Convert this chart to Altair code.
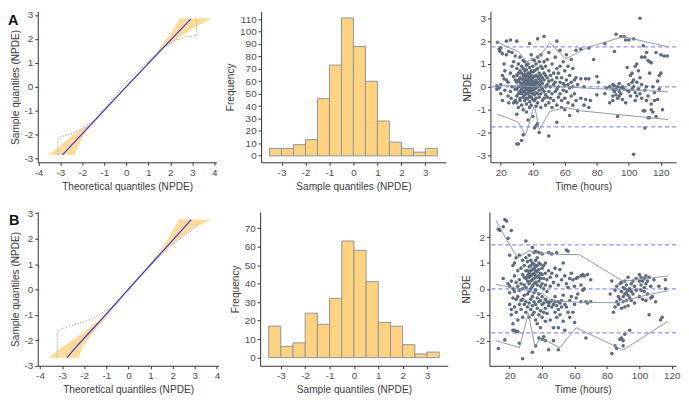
import altair as alt
import pandas as pd

FONT = "Liberation Sans"

# ---------------- QQ plot A ----------------
QQA_LINE_X = [-2.91, -2.5, -2.0, -1.5, -1.0, -0.5, 0.0, 0.5, 1.0, 1.5, 2.0, 2.5, 2.93]
QQA_LINE_Y = [-2.84, -2.44, -1.95, -1.46, -0.97, -0.48, 0.01, 0.49, 0.98, 1.46, 1.94, 2.42, 2.83]
QQA_BAND_Y = [-2.84, -2.5, -2.0, -1.6, -1.3, -0.8, 0.0, 0.8, 1.3, 1.6, 2.0, 2.4, 2.87]
QQA_BAND_LO = [-3.57, -3.05, -2.45, -1.75, -1.38, -0.86, -0.05, 0.75, 1.28, 1.5, 1.82, 2.15, 2.42]
QQA_BAND_HI = [-2.36, -2.2, -1.92, -1.57, -1.26, -0.77, 0.05, 0.88, 1.4, 1.72, 2.3, 2.95, 3.87]
QQA_DOT_X = [-3.11, -3.11, -2.95, -2.5, -2.0, -1.35, -0.8, -0.1, 0.5, 1.0, 1.6, 2.2, 2.7, 3.2, 3.2]
QQA_DOT_Y = [-2.84, -2.18, -2.07, -1.95, -1.75, -1.31, -0.7, 0.12, 0.65, 1.08, 1.6, 1.94, 2.08, 2.15, 2.83]

# ---------------- QQ plot B ----------------
QQB_LINE_X = [-2.78, -2.3, -1.8, -1.3, -0.8, -0.3, 0.2, 0.7, 1.2, 1.7, 2.2, 2.84]
QQB_LINE_Y = [-2.68, -2.2, -1.72, -1.25, -0.77, -0.28, 0.2, 0.68, 1.17, 1.65, 2.13, 2.75]
QQB_BAND_Y = [-2.68, -2.3, -2.0, -1.6, -1.2, -0.6, 0.0, 0.6, 1.2, 1.6, 2.0, 2.4, 2.75]
QQB_BAND_LO = [-3.62, -3.05, -2.55, -1.9, -1.32, -0.65, -0.05, 0.55, 1.12, 1.5, 1.8, 2.05, 2.29]
QQB_BAND_HI = [-2.24, -2.1, -1.85, -1.5, -1.1, -0.55, 0.05, 0.65, 1.28, 1.75, 2.3, 2.9, 3.78]
QQB_DOT_X = [-3.22, -3.22, -3.04, -2.4, -1.66, -1.08, -0.57, 0.0, 0.6, 1.3, 1.8, 2.33, 2.9, 3.2]
QQB_DOT_Y = [-2.68, -1.67, -1.55, -1.38, -1.17, -0.85, -0.6, 0.05, 0.62, 1.2, 1.62, 1.99, 2.37, 2.62]

# ---------------- Histograms ----------------
HIST_EDGES = [-3.5, -3.0, -2.5, -2.0, -1.5, -1.0, -0.5, 0.0, 0.5, 1.0, 1.5, 2.0, 2.5, 3.0, 3.5]
HIST_A = [6, 6, 9, 13, 46, 73, 111, 88, 60, 28, 11, 6, 3, 6]
HIST_B = [17, 6, 8, 24, 18, 32, 63, 58, 41, 19, 17, 7, 2, 3]

# ---------------- Scatter A: (time, [npde values]) ----------------
SCAT_A = [
    (17.5, [0.05, -0.1]), (18, [1.95]), (19, [1.65, -0.05]), (19.5, [1.55]), (20, [1.7, 0.1, -0.3]),
    (21, [1.45, 0.5, -0.6]), (22, [0.35, 1.0]), (22.5, [0.7, -0.15]), (23.5, [2.0, 0.3, 1.4]),
    (24.5, [-0.4, 0.2]), (25, [1.55, -0.7]), (26, [2.05, 0.6, -0.2]), (26.5, [-0.5]),
    (27, [1.5, 0.9, 0.0]), (28, [-0.7, 0.45, 1.1]), (29, [-0.1, 0.3, 1.35, -0.6]),
    (30, [2.0, 0.8, 0.5, 0.2, -0.1, -0.4, -0.7, -1.2, -2.5]),
    (31, [1.0, 0.6, 0.3, 0.0, -0.3, -0.9, -2.5]),
    (32, [1.3, 0.7, 0.4, 0.2, 0.05, -0.2, -0.5, -0.6]),
    (33, [0.9, 0.6, 0.35, 0.1, -0.1, -0.3, -0.8, -2.35]),
    (34, [1.15, 0.8, 0.5, 0.3, 0.15, 0.0, -0.2, -0.45, -1.0, -2.1]),
    (35, [1.1, 0.7, 0.55, 0.4, 0.25, 0.1, -0.05, -0.2, -0.35, -0.6]),
    (36, [0.95, 0.75, 0.5, 0.3, 0.2, 0.05, -0.1, -0.3, -0.5, -0.75, -1.1]),
    (37, [1.0, 0.6, 0.45, 0.3, 0.15, 0.0, -0.15, -0.3, -0.5, -1.45]),
    (38, [1.9, 0.85, 0.6, 0.4, 0.2, 0.1, -0.05, -0.2, -0.4, -0.65, -0.9]),
    (39, [1.4, 0.7, 0.5, 0.3, 0.15, 0.05, -0.1, -0.25, -0.45, -0.8]),
    (40, [1.2, 0.9, 0.65, 0.4, 0.25, 0.1, 0.0, -0.15, -0.3, -0.55, -1.3]),
    (41, [1.15, 0.7, 0.45, 0.2, 0.05, -0.1, -0.35, -0.6, -1.8]),
    (42, [1.0, 0.75, 0.5, 0.3, 0.15, -0.05, -0.25, -0.5, -0.85, -1.7]),
    (43, [2.1, 1.3, 0.8, 0.45, 0.2, 0.0, -0.3, -0.7, -1.6]),
    (44, [1.1, 0.6, 0.35, 0.1, -0.15, -0.45, -2.0]),
    (45, [1.4, 0.9, 0.5, 0.25, 0.0, -0.3, -0.9]),
    (46, [0.8, 0.4, 0.15, -0.1, -0.6]),
    (47, [2.2, 1.1, 0.6, 0.3, -0.2, -0.5]),
    (48, [0.9, 0.5, 0.0, -0.35, -0.8]),
    (49, [1.2, 0.4, 0.1, -0.45]),
    (50, [1.5, 0.7, 0.25, -0.2, -0.7, -2.15]),
    (51, [0.5, 0.0, -0.5]), (52, [1.0, 0.3, -0.3, -0.9]), (53, [0.6, 0.1, -0.6]),
    (54, [1.3, 0.2, -0.2]), (55, [2.0, 0.8, 0.4, -0.1, -0.8, -1.55]), (56, [0.6, 0.0, -0.45]),
    (57, [1.6, 0.9, 0.2, -0.3]), (58, [0.4, -0.6, -0.9]), (59, [1.1, 0.15, -0.15]),
    (60, [0.7, 0.05, -0.5, -1.0]), (61, [1.4, 0.3, -0.2]), (62, [0.9, 0.1, -0.7]),
    (63, [0.5, -0.05, -1.25]), (64, [1.2, 0.2, -0.4]), (65, [0.8, 0.0, -0.8]), (66, [0.3, -0.3]),
    (67, [1.6, 0.4, -0.6]), (68, [0.1, -1.05]), (70, [1.65, 0.35, -0.5]), (72, [0.0, -0.8]),
    (73, [0.35, -0.55]), (75, [1.7, 0.35, -0.9]), (76, [-0.6]), (78, [1.2]), (80, [0.45, -0.35]),
    (81, [0.2]), (85, [1.9, -0.3]), (86, [-0.05]), (88, [-0.7, 0.0]), (90, [-0.4, -0.1, 0.1, -0.6]),
    (91, [1.55, -0.2, 0.05]), (92, [2.3, -0.35, -0.1]), (93, [-1.3, -0.5, 0.0]), (94, [-0.2, -0.4, 0.15]),
    (95, [2.2, -0.3, -0.05]), (96, [-0.55, 0.0]), (97, [2.2, -0.1]), (98, [2.05, -0.7]),
    (99, [0.85, -0.15]), (100, [2.05, -0.2, 0.1]), (101, [0.5, -0.4]), (102, [0.6, -0.1, 0.2]),
    (103, [2.1, -2.95, 0.0, 0.3]), (104, [0.9, -0.6, -0.25]), (105, [0.2, 1.0, -0.4]), (106, [0.7, -0.1]),
    (107, [3.0, 0.4, -0.3]), (108, [1.3, 0.1, -0.5]), (109, [1.8, -1.05]), (110, [1.3, -1.8, -0.15, -1.05]),
    (111, [1.5, 0.0, -0.6]), (112, [1.15, -1.35, -0.4]), (113, [1.1, 0.6, -1.35]), (114, [1.05, -0.75, -1.0]),
    (115, [0.0, -1.1]), (116, [-0.6, -0.25]), (117, [1.5, -1.3]), (118, [0.25, -0.55]), (119, [-0.1, 0.5]),
    (120, [0.6, 1.4]), (121, [-1.0]), (122, [1.35]), (124, [1.35]),
]
SCA_UP_T = [17.5, 24, 31, 36, 41, 45, 50.5, 60.5, 70, 75, 85, 96.5, 124.5]
SCA_UP_V = [1.98, 1.75, 1.55, 1.1, 1.25, 1.4, 1.93, 1.22, 1.57, 1.75, 1.95, 2.2, 1.75]
SCA_MID_T = [17.5, 30, 45, 60, 80, 100, 124.5]
SCA_MID_V = [0.05, 0.05, 0.0, 0.0, -0.08, -0.12, -0.22]
SCA_LOW_T = [17.5, 24, 31, 35.5, 41, 44, 50.5, 55, 60.5, 70, 124.5]
SCA_LOW_V = [-1.2, -1.35, -1.55, -2.12, -0.8, -1.88, -1.08, -1.0, -0.9, -1.05, -1.43]
SCA_REF = [-1.75, 0.0, 1.75]

# ---------------- Scatter B ----------------
SCAT_B = [
    (13, [2.3, -2.3]), (14, [2.25]), (16, [2.4, 0.4]), (17, [2.68, -1.97]), (18, [2.62]), (19, [1.95, 0.2]),
    (20, [1.3, 0.1, -0.15, -0.6]), (21, [2.25, 0.3, -0.8, -1.0]), (22, [0.9, 0.0, -0.35, -1.35, -1.6]),
    (23, [1.0, 0.5, -0.1, -0.7, -1.6]), (24, [1.2, 0.25, -0.4, -0.9, -1.65]), (25, [0.7, 0.1, -0.3, -1.2, -1.65]),
    (26, [1.3, 0.35, -0.05, -0.6, -2.1]), (27, [0.8, 0.2, -0.45, -0.8]), (28, [1.1, 0.55, 0.0, -0.4, -1.1, -2.7]),
    (29, [0.9, 0.45, 0.15, -0.25, -0.6]), (30, [1.85, 1.2, 0.7, 0.4, 0.05, -0.5, -0.9]),
    (31, [1.05, 0.7, 0.5, 0.3, -0.2, -0.7]), (32, [1.3, 0.85, 0.6, 0.45, 0.2, -0.1, -0.55, -1.1]),
    (33, [1.1, 0.9, 0.7, 0.5, 0.3, 0.0, -0.4, -0.8]),
    (34, [1.6, 1.0, 0.75, 0.55, 0.35, 0.1, -0.3, -0.65, -1.0, -2.45]),
    (35, [1.4, 0.95, 0.8, 0.6, 0.4, 0.2, -0.15, -0.5, -0.9]),
    (36, [1.45, 1.1, 0.85, 0.7, 0.5, 0.25, -0.05, -0.6, -1.2, -2.2]),
    (37, [1.2, 0.9, 0.65, 0.45, 0.15, -0.35, -0.75, -1.35]),
    (38, [1.4, 1.0, 0.75, 0.5, 0.3, -0.2, -0.5, -1.0, -1.9]),
    (39, [0.95, 0.6, 0.4, 0.1, -0.45, -0.85, -1.5]),
    (40, [1.35, 0.8, 0.55, 0.2, -0.3, -0.6, -1.1, -1.95]),
    (41, [0.9, 0.4, 0.0, -0.55, -0.9, -1.85]), (42, [1.0, 0.6, 0.15, -0.4, -0.75, -1.25, -2.0]),
    (43, [0.35, -0.1, -0.5, -0.95]), (44, [1.4, 0.7, -0.55, -0.65, -2.35]), (45, [0.45, 0.1, -0.5, -1.2]),
    (46, [1.35, 0.6, -0.45, -0.7]), (47, [0.25, -0.6, -1.5, -2.0]), (48, [0.8, -0.3, -0.5, -0.9]),
    (49, [1.4, 0.5, -0.65, -1.1]), (50, [0.15, -0.5, -0.8, -1.5, -2.35]), (51, [0.75, -0.55, -1.0]),
    (52, [0.35, -0.45, -0.7]), (53, [1.0, -0.25, -1.25]), (54, [0.5, -0.6, -1.6]), (55, [1.5, 0.2, -0.7]),
    (56, [1.45, 0.05, -0.9]), (57, [0.4, -0.45, -1.1]), (58, [0.6, -0.3]), (59, [0.35, -0.9]),
    (60, [0.1, -0.6, -1.3]), (61, [0.4, -0.35]), (62, [0.45, -0.2]), (64, [0.5, 0.15, -0.5]),
    (65, [0.55, -0.05]), (66, [0.5, 0.0]), (67, [-0.5, -1.9]), (68, [0.55, -0.55]), (70, [0.35, -0.5]),
    (82, [-0.2]), (83, [0.3, -2.5]), (84, [-0.9]), (85, [-0.05, -0.7, -2.2]), (86, [0.1, -0.5, -2.3]),
    (87, [-0.3, -0.6]), (88, [0.2, -0.4, -1.95]), (89, [0.25, -0.1, -0.75, -1.9]),
    (90, [0.05, -0.3, -0.5, -2.0, -2.2]), (91, [0.3, 0.0, -0.2, -0.7, -1.75]), (92, [0.15, -0.15, -0.45]),
    (93, [0.45, -0.05, -0.25, -0.65]), (94, [0.0, -0.35, -1.6]), (95, [0.2, -0.1, -0.45]), (96, [0.3, -0.2]),
    (97, [0.1, -0.55]), (98, [0.4, -0.05]), (100, [0.55, 0.3, -0.3]), (101, [0.45, 0.15, -0.05]),
    (102, [0.3, -0.4]), (103, [0.4, 0.05, -0.1]), (104, [0.5, 0.2, -0.45]), (105, [0.3, -0.2]),
    (106, [0.45, -1.0]), (107, [0.1, -0.35]), (108, [-0.3]), (109, [0.35]), (110, [-0.5]), (112, [0.1]),
    (113, [-1.2]), (114, [-1.1]), (116, [0.35, 0.0]),
]
SCB_UP_T = [11.5, 18, 25, 32, 38, 44, 50, 63, 90, 117.5]
SCB_UP_V = [2.65, 1.9, 1.2, 1.48, 1.35, 1.4, 1.33, 1.32, 0.29, 0.5]
SCB_MID_T = [11.5, 26, 35, 41, 45, 63, 88, 100, 117.5]
SCB_MID_V = [0.17, 0.0, -0.1, -0.2, -0.45, -0.52, -0.54, -0.3, -0.07]
SCB_LOW_T = [11.5, 26, 31.5, 35.5, 39, 44, 51, 61, 90, 117.5]
SCB_LOW_V = [-2.0, -2.27, -0.95, -2.2, -1.95, -2.05, -2.27, -1.5, -2.36, -1.25]
SCB_REF = [-1.7, 0.0, 1.7]

BAND_COL = "#FFD27F"
BAR_COL = "#FFD27F"
BAR_EDGE = "#8A95A5"
LINE_BLUE = "#3535E8"
DOT_GREY = "#A8A8A8"
PT_COL = "#5B6A7D"
PI_GREY = "#8E9AA6"
REF_BLUE = "#8C8CFF"

LBL = "'' + datum.value"


def ax(title, values):
    return alt.Axis(title=title, values=values, labelExpr=LBL)


def qq_panel(lx, ly, by, blo, bhi, dx, dy, xdom, ydom, letter, lpos, w, h):
    xs = alt.Scale(domain=xdom, nice=False, zero=False)
    ys = alt.Scale(domain=ydom, nice=False, zero=False)
    xax = ax("Theoretical quantiles (NPDE)", [-4, -3, -2, -1, 0, 1, 2, 3, 4])
    yax = ax("Sample quantiles (NPDE)", [-3, -2, -1, 0, 1, 2, 3])
    band_df = pd.DataFrame({"y": by, "lo": blo, "hi": bhi})
    dot_df = pd.DataFrame({"x": dx, "y": dy, "i": list(range(len(dx)))})
    line_df = pd.DataFrame({"x": lx, "y": ly})
    band = alt.Chart(band_df).mark_area(orient="horizontal", color=BAND_COL, opacity=0.8).encode(
        y=alt.Y("y:Q", scale=ys, axis=yax),
        x=alt.X("lo:Q", scale=xs, axis=xax),
        x2="hi:Q",
    )
    dots = alt.Chart(dot_df).mark_line(color=DOT_GREY, strokeDash=[1.5, 1.5], strokeWidth=1).encode(
        x=alt.X("x:Q", scale=xs, axis=xax),
        y=alt.Y("y:Q", scale=ys, axis=yax),
        order="i:Q",
    )
    line = alt.Chart(line_df).mark_line(color=LINE_BLUE, strokeWidth=1.2).encode(
        x=alt.X("x:Q", scale=xs, axis=xax),
        y=alt.Y("y:Q", scale=ys, axis=yax),
    )
    txt = alt.Chart(pd.DataFrame({"t": [letter]})).mark_text(
        font=FONT, fontSize=14.5, fontWeight="bold", align="left", baseline="top", color="#111111"
    ).encode(x=alt.value(lpos[0]), y=alt.value(lpos[1]), text="t:N")
    return alt.layer(band, dots, line, txt).properties(width=w, height=h)


def hist_panel(counts, ydom, yvals, w, h):
    df = pd.DataFrame({"a": HIST_EDGES[:-1], "b": HIST_EDGES[1:], "n": counts})
    return alt.Chart(df).mark_bar(color=BAR_COL, stroke=BAR_EDGE, strokeWidth=1).encode(
        x=alt.X("a:Q", scale=alt.Scale(domain=[-3.85, 3.85], nice=False, zero=False),
                axis=ax("Sample quantiles (NPDE)", [-3, -2, -1, 0, 1, 2, 3])),
        x2="b:Q",
        y=alt.Y("n:Q", scale=alt.Scale(domain=ydom, nice=False, zero=False), axis=ax("Frequency", yvals)),
        y2=alt.datum(0),
    ).properties(width=w, height=h)


def expand(cols):
    t, v = [], []
    for time, vals in cols:
        for y in vals:
            t.append(time)
            v.append(y)
    return pd.DataFrame({"t": t, "v": v})


def scatter_panel(cols, lines, refs, xdom, ydom, yvals, w, h):
    xs = alt.Scale(domain=xdom, nice=False, zero=False)
    ys = alt.Scale(domain=ydom, nice=False, zero=False)
    xax = ax("Time (hours)", [20, 40, 60, 80, 100, 120])
    yax = ax("NPDE", yvals)
    rows = []
    for k, (tt, vv) in enumerate(lines):
        for i, (a, b) in enumerate(zip(tt, vv)):
            rows.append({"s": k, "i": i, "t": a, "v": b})
    ldf = pd.DataFrame(rows)
    rule = alt.Chart(pd.DataFrame({"v": refs})).mark_rule(
        color=REF_BLUE, strokeDash=[4, 3], strokeWidth=1.2
    ).encode(y=alt.Y("v:Q", scale=ys, axis=yax))
    pts = alt.Chart(expand(cols)).mark_circle(color=PT_COL, size=13, opacity=1).encode(
        x=alt.X("t:Q", scale=xs, axis=xax),
        y=alt.Y("v:Q", scale=ys, axis=yax),
    )
    pil = alt.Chart(ldf).mark_line(color=PI_GREY, strokeWidth=1).encode(
        x=alt.X("t:Q", scale=xs, axis=xax),
        y=alt.Y("v:Q", scale=ys, axis=yax),
        detail="s:N",
        order="i:Q",
    )
    return alt.layer(rule, pts, pil).properties(width=w, height=h)


qqA = qq_panel(QQA_LINE_X, QQA_LINE_Y, QQA_BAND_Y, QQA_BAND_LO, QQA_BAND_HI, QQA_DOT_X, QQA_DOT_Y,
               [-4.03, 4.1], [-3.15, 3.15], "A", (-30, 3), 180, 152)
histA = hist_panel(HIST_A, [-5.2, 116.2], list(range(0, 111, 10)), 186, 152)
scA = scatter_panel(SCAT_A, [(SCA_UP_T, SCA_UP_V), (SCA_MID_T, SCA_MID_V), (SCA_LOW_T, SCA_LOW_V)],
                    SCA_REF, [13.5, 129.5], [-3.3, 3.3], [-3, -2, -1, 0, 1, 2, 3], 187, 152)

qqB = qq_panel(QQB_LINE_X, QQB_LINE_Y, QQB_BAND_Y, QQB_BAND_LO, QQB_BAND_HI, QQB_DOT_X, QQB_DOT_Y,
               [-4.1, 4.07], [-3.0, 3.05], "B", (-29, 2), 182, 155)
histB = hist_panel(HIST_B, [-4.4, 78.7], list(range(0, 71, 10)), 189, 155)
scB = scatter_panel(SCAT_B, [(SCB_UP_T, SCB_UP_V), (SCB_MID_T, SCB_MID_V), (SCB_LOW_T, SCB_LOW_V)],
                    SCB_REF, [7.5, 122.6], [-2.97, 2.97], [-2, -1, 0, 1, 2], 188, 155)

rowA = alt.hconcat(qqA, histA, scA, spacing=45, bounds="flush")
rowB = alt.hconcat(qqB, histB, scB, spacing=42, bounds="flush")

chart = alt.vconcat(rowA, rowB, spacing=16).properties(padding=0).configure_view(
    stroke=None
).configure_axis(
    domainColor="#333333", domainWidth=1, tickColor="#333333", tickSize=3, tickWidth=1,
    labelColor="#4D4D4D", labelFont=FONT, labelFontSize=10, labelPadding=2,
    labelFlush=False, labelOverlap=False,
    titleFont=FONT, titleFontSize=10.2, titleFontWeight="normal", titleColor="#3A3A3A",
    titlePadding=4, grid=False,
)

chart.save("out.html", embed_options={"renderer": "svg", "actions": False})
